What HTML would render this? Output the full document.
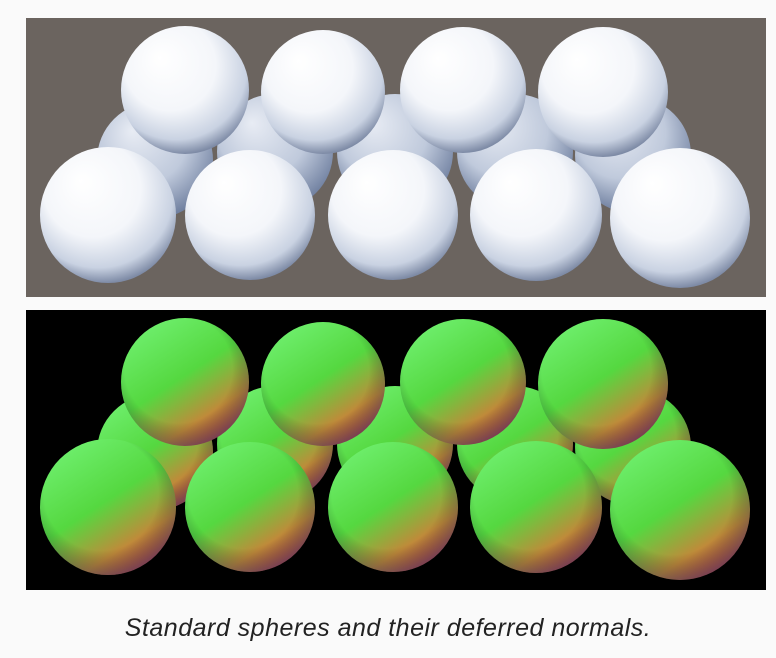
<!DOCTYPE html>
<html><head><meta charset="utf-8">
<style>
body{margin:0;background:#fafafa;width:776px;height:658px;overflow:hidden;font-family:"Liberation Sans",sans-serif}
#cap{position:absolute;left:0;top:614px;width:776px;text-align:center;font-style:italic;font-size:25px;color:#222;letter-spacing:0.5px}
</style></head><body>
<svg width="776" height="600" style="position:absolute;left:0;top:0">
<defs>
<radialGradient id="w" cx="0.45" cy="0.35" r="0.65" fx="0.3" fy="0.25">
<stop offset="0" stop-color="#ffffff"/><stop offset="0.55" stop-color="#f4f6fa"/><stop offset="0.85" stop-color="#c9d2e2"/><stop offset="1" stop-color="#7e8ba6"/></radialGradient>
<radialGradient id="wb" cx="0.45" cy="0.35" r="0.65" fx="0.3" fy="0.25">
<stop offset="0" stop-color="#e8ecf4"/><stop offset="0.6" stop-color="#c0cadc"/><stop offset="1" stop-color="#7080a0"/></radialGradient>
<linearGradient id="n" x1="0.2" y1="0" x2="0.85" y2="1">
<stop offset="0" stop-color="#70f070"/><stop offset="0.45" stop-color="#55d840"/><stop offset="0.75" stop-color="#c08a3a"/><stop offset="1" stop-color="#b03050"/></linearGradient>
<radialGradient id="nd" cx="0.45" cy="0.4" r="0.6">
<stop offset="0.7" stop-color="#000" stop-opacity="0"/><stop offset="1" stop-color="#102060" stop-opacity="0.35"/></radialGradient>
</defs>
<rect x="26" y="18" width="740" height="279" fill="#6b645f"/>
<rect x="26" y="310" width="740" height="280" fill="#000"/>
<g id="g"></g>
</svg>
<div id="cap">Standard spheres and their deferred normals.</div>
<script>
const midRow=[[155,160,58],[275,152,58],[395,152,58],[515,152,58],[633,155,58]];
const frontRow=[[108,215,68],[250,215,65],[393,215,65],[536,215,66],[680,218,70]];
const topRow=[[185,90,64],[323,92,62],[463,90,63],[603,92,65]];
const g=document.getElementById('g');
function draw(list,dy,fill,name){list.forEach((s,i)=>{
 const c=document.createElementNS('http://www.w3.org/2000/svg','circle');
 c.setAttribute('cx',s[0]);c.setAttribute('cy',s[1]+dy);c.setAttribute('r',s[2]);c.setAttribute('fill',fill);
 
 
 g.appendChild(c);
 if(fill==='url(#n)'){const d=c.cloneNode();d.setAttribute('fill','url(#nd)');
 
 
 g.appendChild(d);}
});}
draw(midRow,0,'url(#wb)','sphere-back');draw(frontRow,0,'url(#w)','sphere-front');draw(topRow,0,'url(#w)','sphere-top');
draw(midRow,292,'url(#n)','normal-sphere-back');draw(frontRow,292,'url(#n)','normal-sphere-front');draw(topRow,292,'url(#n)','normal-sphere-top');
</script>
</body></html>
